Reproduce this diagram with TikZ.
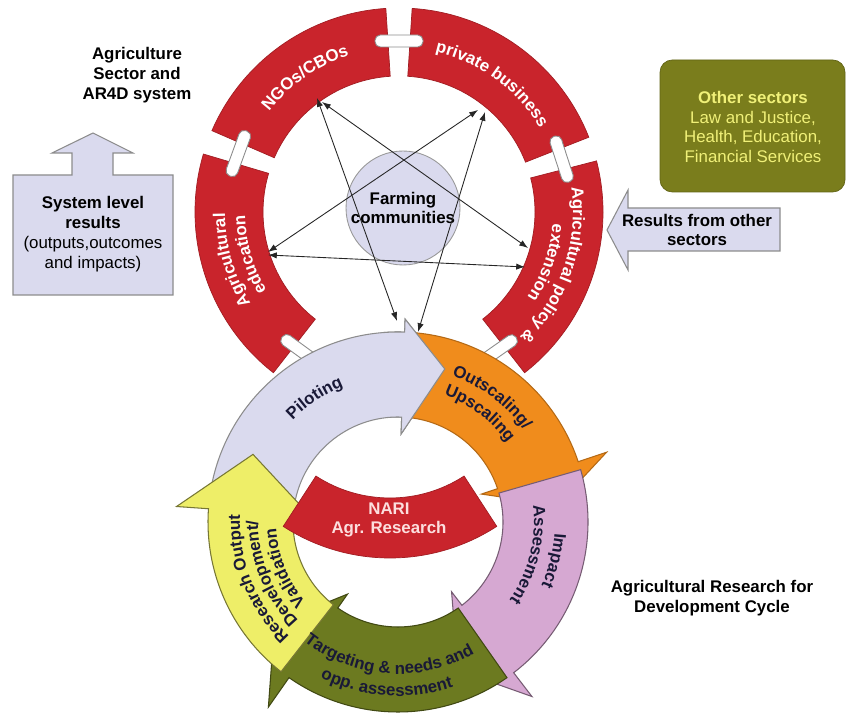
\documentclass[tikz,border=0pt]{standalone}
\usepackage{fontspec}
\setmainfont{Liberation Sans}
\usetikzlibrary{arrows.meta, decorations.text, positioning}

\definecolor{ringred}{RGB}{201,36,44}
\definecolor{lilac}{RGB}{218,218,238}
\definecolor{orangefill}{RGB}{240,140,28}
\definecolor{mauve}{RGB}{214,168,210}
\definecolor{olivefill}{RGB}{108,122,32}
\definecolor{lemon}{RGB}{238,238,104}
\definecolor{boxolive}{RGB}{122,125,28}
\definecolor{paleyellow}{RGB}{240,240,120}
\definecolor{nariwhite}{RGB}{252,222,222}
\definecolor{ink}{RGB}{25,25,55}

\newcommand\ringtxt{\fontsize{9.6}{11}\selectfont\bfseries\color{white}}
\newcommand\cyctxt{\fontsize{9.6}{11}\selectfont\bfseries\color{ink}}

% one segment of the top ring
\newcommand\ringseg[2]{(#1:204) arc[start angle=#1, end angle=#2, radius=204] -- (#2:136) arc[start angle=#2, end angle=#1, radius=136] -- cycle}
% one curved arrow of the research cycle: tail, base of head, tip, outer flare
\newcommand\cycarrow[4]{(#1:190) arc[start angle=#1, end angle=#2, radius=190] -- (#2:#4) -- (#3:160) -- (#2:88) -- (#2:105) arc[start angle=#2, end angle=#1, radius=105] -- cycle}
% text set along an arc
\newcommand\curvetext[5]{\path[decorate, decoration={text along path, text align=center, text={|#1|#5}}] (#2:#4) arc[start angle=#2, end angle=#3, radius=#4];}

\begin{document}
\begin{tikzpicture}[x=0.02cm, y=0.02cm,
  ring/.style={fill=ringred, draw=ringred!80!black, line width=0.4pt},
  bridge/.style={draw=black!45, fill=white, line width=0.5pt, rounded corners=3pt,
    minimum width=0.96cm, minimum height=0.24cm, inner sep=0pt},
  tie/.style={draw=black!85, line width=0.5pt,
    arrows={Latex[length=5pt,width=3.6pt]-Latex[length=5pt,width=3.6pt]}},
  txt/.style={align=center, font=\fontsize{9.6}{11.3}\selectfont},
  btxt/.style={txt, font=\fontsize{9.6}{11.3}\selectfont\bfseries},
  farm/.style={circle, fill=lilac, draw=black!40, line width=0.5pt, minimum size=2.28cm, inner sep=0pt, btxt},
  pilot/.style={fill=lilac, draw=black!45, line width=0.6pt},
  outscale/.style={fill=orangefill, draw=orangefill!75!black, line width=0.6pt},
  impact/.style={fill=mauve, draw=mauve!55!black, line width=0.6pt},
  target/.style={fill=olivefill, draw=olivefill!60!black, line width=0.6pt},
  resout/.style={fill=lemon, draw=lemon!50!black, line width=0.6pt},
  flat/.style={fill=lilac, draw=black!45, line width=0.6pt}]

\fill[white] (0,0) rectangle (848,721);

% side boxes and captions
\node[btxt] (agr) at (137,646) {Agriculture\\Sector and\\AR4D system};
\filldraw[flat] (13,426) -- (173,426) -- (173,546) -- (113,546) -- (113,568) -- (133,568)
  -- (93,588) -- (52,568) -- (72,568) -- (72,546) -- (13,546) -- cycle;
\node[txt] (sys) at (93,487) {\textbf{System level}\\\textbf{results}\\(outputs,outcomes\\and impacts)};
\filldraw[fill=boxolive, draw=boxolive!80!black, rounded corners=7pt] (660,529) rectangle (845,661);
\node[txt, text=paleyellow] (oth) at (753,594) {\textbf{Other sectors}\\Law and Justice,\\Health, Education,\\Financial Services};
\filldraw[flat] (780,470) -- (780,513) -- (628,513) -- (628,531) -- (607,491) -- (628,451) -- (628,470) -- cycle;
\node[btxt] (res) at (697,491) {Results from other\\sectors};
\node[btxt] (cyc) at (712,123) {Agricultural Research for\\Development Cycle};

% top ring
\begin{scope}[shift={(399,509)}]
  \fill[ring] \ringseg{156.5}{93.7};
  \fill[ring] \ringseg{86.3}{21.5};
  \fill[ring] \ringseg{232}{163.5};
  \fill[ring] \ringseg{14.5}{-52};
  \node[bridge] (br1) at (90:171) {};
  \node[bridge, rotate=70] (br2) at (160:171) {};
  \node[bridge, rotate=-72] (br3) at (18:171) {};
  \node[bridge, rotate=144] (br4) at (235:170) {};
  \node[bridge, rotate=-145] (br5) at (-55:170) {};
  \curvetext{\ringtxt}{160}{90}{164}{NGOs/CBOs}
  \curvetext{\ringtxt}{89}{19}{164}{private business}
  \curvetext{\ringtxt}{231}{161}{174}{Agricultural}
  \curvetext{\ringtxt}{231}{161}{154}{education}
  \curvetext{\ringtxt}{16}{-54}{174}{Agricultural policy {\&}}
  \curvetext{\ringtxt}{16}{-54}{154}{extension}
\end{scope}

\node[farm] (farm) at (403,513) {Farming\\communities};

% research cycle
\begin{scope}[shift={(398,199)}]
  \filldraw[pilot] \cycarrow{173}{88}{73}{203};
  \filldraw[outscale] \cycarrow{86}{18.5}{6}{220};
  \filldraw[impact] \cycarrow{16}{-52.5}{-68}{220};
  \filldraw[target] \cycarrow{-55}{-125}{-140.5}{226};
  \filldraw[resout] \cycarrow{-128}{-184}{-205}{222};
  \begin{scope}
    \clip (0,0) -- (95:260) arc[start angle=95, end angle=55, radius=260] -- cycle;
    \filldraw[pilot] \cycarrow{173}{88}{73}{203};
  \end{scope}
  \curvetext{\cyctxt}{160}{88}{146}{Piloting}
  \curvetext{\cyctxt}{88}{18}{156}{Outscaling/}
  \curvetext{\cyctxt}{88}{18}{135}{Upscaling}
  \curvetext{\cyctxt}{21}{-49}{157}{Impact}
  \curvetext{\cyctxt}{21}{-49}{136}{Assessment}
  \curvetext{\cyctxt}{-134}{-54}{152}{Targeting {\&} needs and}
  \curvetext{\cyctxt}{-134}{-54}{174}{opp. assessment}
  \curvetext{\cyctxt}{237}{167}{158}{Research Output}
  \curvetext{\cyctxt}{237}{167}{140}{Development/}
  \curvetext{\cyctxt}{237}{167}{122}{Validation}
\end{scope}

\begin{scope}[shift={(390,359)}]
  \fill[ring] (-123:196) arc[start angle=-123, end angle=-57, radius=196]
    -- (-57:136) arc[start angle=-57, end angle=-123, radius=136] -- cycle;
\end{scope}
\node[btxt, text=nariwhite] (nari) at (389,201) {NARI\\Agr. Research};

% links between the actors
\coordinate (ngoA) at (317,623);
\coordinate (ngoB) at (322,619);
\coordinate (bizA) at (478,611);
\coordinate (bizB) at (485,609);
\coordinate (eduA) at (268,469);
\coordinate (eduB) at (268,466);
\coordinate (polA) at (528,473);
\coordinate (polB) at (525,454);
\coordinate (pilA) at (397,400);
\coordinate (pilB) at (418,389);
\draw[tie] (ngoA) -- (pilA);
\draw[tie] (ngoB) -- (polA);
\draw[tie] (bizA) -- (eduA);
\draw[tie] (bizB) -- (pilB);
\draw[tie] (eduB) -- (polB);

\end{tikzpicture}
\end{document}
